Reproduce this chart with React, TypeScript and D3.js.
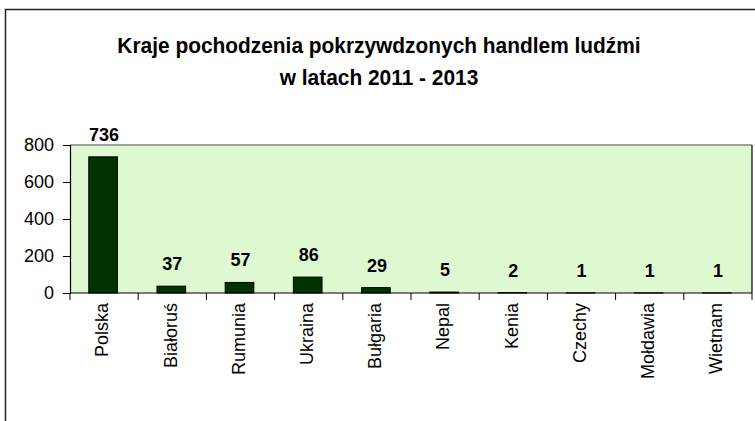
import React, { useEffect, useRef } from "react";
import * as d3 from "d3";

// dane
const countries = ["Polska", "Białoruś", "Rumunia", "Ukraina", "Bułgaria", "Nepal", "Kenia", "Czechy", "Mołdawia", "Wietnam"];
const victims = [736, 37, 57, 86, 29, 5, 2, 1, 1, 1];
const yTicks = [0, 200, 400, 600, 800];
const titleLines = ["Kraje pochodzenia pokrzywdzonych handlem ludźmi", "w latach 2011 - 2013"];

export default function App() {
  const ref = useRef<SVGSVGElement>(null);

  useEffect(() => {
    const width = 755,
      height = 421;
    const plot = { left: 70, right: 752, top: 145, bottom: 293 };
    const font = "'Liberation Sans', Arial, sans-serif";

    const svg = d3.select(ref.current);
    svg.selectAll("*").remove();

    // ramka całego wykresu
    svg.append("rect")
      .attr("x", 5.5)
      .attr("y", 9.5)
      .attr("width", width)
      .attr("height", height)
      .style("fill", "white")
      .style("stroke", "#222")
      .style("stroke-width", 1.5);

    // tytuł (lekko zwężony, jak w oryginale)
    svg.append("g")
      .attr("transform", "translate(379,0) scale(0.95,1)")
      .append("text")
      .attr("text-anchor", "middle")
      .style("font-family", font)
      .style("font-weight", "bold")
      .style("font-size", "22px")
      .selectAll("tspan")
      .data(titleLines)
      .enter().append("tspan")
      .attr("x", 0)
      .attr("y", (d, i) => 53 + i * 32)
      .text(d => d);

    var x = d3.scaleBand()
      .domain(countries)
      .range([plot.left, plot.right])
      .padding(0);

    var y = d3.scaleLinear()
      .domain([0, 800])
      .range([plot.bottom, plot.top]);

    // tło obszaru kreślenia
    svg.append("rect")
      .attr("x", plot.left)
      .attr("y", plot.top)
      .attr("width", plot.right - plot.left)
      .attr("height", plot.bottom - plot.top)
      .style("fill", "#DEF8D2");

    // górna (szara) i prawa krawędź
    svg.append("line")
      .attr("x1", plot.left).attr("x2", plot.right)
      .attr("y1", plot.top).attr("y2", plot.top)
      .style("stroke", "#808080").style("stroke-width", 1.5);
    svg.append("line")
      .attr("x1", plot.right).attr("x2", plot.right)
      .attr("y1", plot.top).attr("y2", plot.bottom)
      .style("stroke", "black").style("stroke-width", 1.2);

    var barW = x.bandwidth() * 0.42;

    svg.selectAll(".bar")
      .data(victims)
      .enter().append("rect")
      .attr("class", "bar")
      .attr("x", (d, i) => x(countries[i])! + (x.bandwidth() - barW) / 2 - 1)
      .attr("y", d => y(d))
      .attr("width", barW)
      .attr("height", d => y(0) - y(d))
      .style("fill", "#003300")
      .style("stroke", "black")
      .style("stroke-width", 1);

    // etykiety wartości
    svg.selectAll(".val")
      .data(victims)
      .enter().append("text")
      .attr("class", "val")
      .attr("x", (d, i) => x(countries[i])! + x.bandwidth() / 2)
      .attr("y", d => y(d) - 16)
      .attr("text-anchor", "middle")
      .style("font-family", font)
      .style("font-weight", "bold")
      .style("font-size", "18px")
      .text(d => d);

    // oś Y
    const yAxis = svg.append("g")
      .attr("transform", "translate(" + plot.left + ",0)")
      .call(d3.axisLeft(y).tickValues(yTicks).tickSize(7).tickPadding(9));
    yAxis.select(".domain").style("stroke", "black").style("stroke-width", 1.2);
    yAxis.selectAll("line").style("stroke", "black");
    yAxis.selectAll("text")
      .style("font-family", font)
      .style("font-size", "18px")
      .style("fill", "black");

    // oś X - kreski na granicach kategorii
    svg.append("line")
      .attr("x1", plot.left).attr("x2", plot.right)
      .attr("y1", plot.bottom).attr("y2", plot.bottom)
      .style("stroke", "black").style("stroke-width", 1.2);
    const bounds = countries.map(c => x(c)!).concat([plot.right]);
    svg.selectAll(".xtick")
      .data(bounds)
      .enter().append("line")
      .attr("class", "xtick")
      .attr("x1", d => d).attr("x2", d => d)
      .attr("y1", plot.bottom).attr("y2", plot.bottom + 7)
      .style("stroke", "black");

    svg.selectAll(".xlab")
      .data(countries)
      .enter().append("text")
      .attr("class", "xlab")
      .attr("transform", d => "translate(" + (x(d)! + x.bandwidth() / 2 - 2) + "," + (plot.bottom + 10) + ") rotate(-90)")
      .attr("dy", "0.35em")
      .attr("text-anchor", "end")
      .style("font-family", font)
      .style("font-size", "18px")
      .text(d => d);
  }, []);

  return (
    <svg ref={ref} width={755} height={421} style={{ position: "absolute", left: 0, top: 0 }} />
  );
}
